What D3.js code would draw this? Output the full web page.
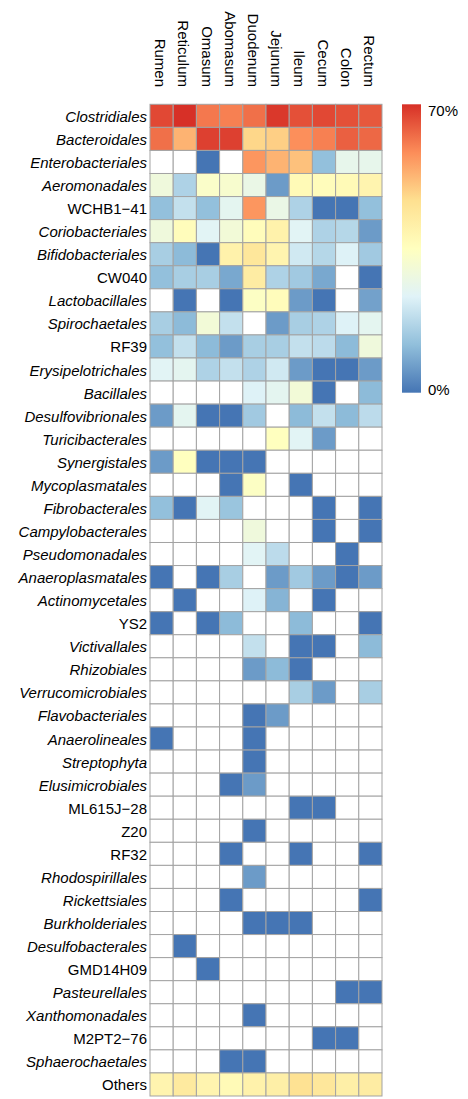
<!DOCTYPE html>
<html>
<head>
<meta charset="utf-8">
<script src="https://cdn.jsdelivr.net/npm/d3@7"></script>
<style>
  body { margin: 0; background: #fff; }
  text { font-family: "Liberation Sans", Arial, sans-serif; fill: #000; }
</style>
</head>
<body>
<svg id="chart" width="468" height="1099"></svg>
<script>
// ---- data ----
const samples = ["Rumen","Reticulum","Omasum","Abomasum","Duodenum","Jejunum","Ileum","Cecum","Colon","Rectum"];
const orders = ["Clostridiales","Bacteroidales","Enterobacteriales","Aeromonadales","WCHB1\u221241","Coriobacteriales","Bifidobacteriales","CW040","Lactobacillales","Spirochaetales",
  "RF39","Erysipelotrichales","Bacillales","Desulfovibrionales","Turicibacterales","Synergistales","Mycoplasmatales","Fibrobacterales","Campylobacterales","Pseudomonadales",
  "Anaeroplasmatales","Actinomycetales","YS2","Victivallales","Rhizobiales","Verrucomicrobiales","Flavobacteriales","Anaerolineales","Streptophyta","Elusimicrobiales",
  "ML615J\u221228","Z20","RF32","Rhodospirillales","Rickettsiales","Burkholderiales","Desulfobacterales","GMD14H09","Pasteurellales","Xanthomonadales",
  "M2PT2\u221276","Sphaerochaetales","Others"];
const uncultured = ["WCHB1\u221241","CW040","RF39","YS2","ML615J\u221228","Z20","RF32","GMD14H09","M2PT2\u221276","Others"];
const N = null;
const rumen     = [67,62,N,29,12,29,15,12,N,15, 12,24,N,6,N,6,N,12,N,N, 0,N,0,N,N,N,N,0,N,N, N,N,N,N,N,N,N,N,N,N, N,N,39];
const reticulum = [70,53,N,16,19,36,11,15,0,11, 19,25,N,25,N,35,N,0,N,N, N,0,N,N,N,N,N,N,N,N, N,N,N,N,N,N,0,N,N,N, N,N,43];
const omasum    = [61,68,0,33,12,24,0,15,N,30, 11,16,N,0,N,0,N,24,N,N, 0,N,0,N,N,N,N,N,N,N, N,N,N,N,N,N,N,0,N,N, N,N,39];
const abomasum  = [60,68,N,32,25,30,40,8,0,19, 6,19,N,0,N,0,0,13,N,N, 15,N,11,N,N,N,N,N,N,0, N,N,0,N,0,N,N,N,N,N, N,0,37];
const duodenum  = [62,48,57,27,57,36,44,42,34,N, 15,16,23,14,N,0,34,N,29,24, N,23,N,19,6,N,0,0,0,6, N,0,N,6,N,0,N,N,N,0, N,0,40];
const jejunum   = [69,49,53,6,27,40,39,16,36,6, 15,21,25,N,35,N,N,N,N,18, 6,10,N,N,11,N,6,N,N,N, N,N,N,N,N,0,N,N,N,N, N,N,41];
const ileum     = [66,58,51,37,16,24,21,14,6,15, 19,6,30,11,24,N,0,N,N,N, 14,N,11,0,0,15,N,N,N,N, 0,N,0,N,N,0,N,N,N,N, N,N,46];
const cecum     = [67,60,12,36,0,16,17,8,0,16, 18,0,0,19,6,N,N,0,0,N, 6,0,N,0,N,6,N,N,N,N, 0,N,N,N,N,N,N,N,N,N, 0,N,44];
const colon     = [66,64,26,37,0,17,23,N,N,23, 11,0,N,11,N,N,N,N,N,0, 0,N,N,N,N,N,N,N,N,N, N,N,N,N,N,N,N,N,0,N, 0,N,41];
const rectum    = [65,63,26,39,12,6,14,0,7,25, 29,6,11,18,N,N,N,0,0,N, 6,N,0,11,N,15,N,N,N,N, N,N,0,N,0,N,N,N,0,N, N,N,42];
const legendTicks = [0, 70];

const seriesBySample = [rumen, reticulum, omasum, abomasum, duodenum, jejunum, ileum, cecum, colon, rectum];

// ---- scales ----
const palette = ["#4575b4","#91bfdb","#e0f3f8","#ffffbf","#fee090","#fc8d59","#d73027"];
const color = d3.scaleLinear()
  .domain(d3.range(palette.length).map(i => 70 * i / (palette.length - 1)))
  .range(palette).clamp(true);

const x = d3.scaleBand().domain(samples).range([150, 382]).padding(0);
const y = d3.scaleBand().domain(orders).range([104.3, 1096]).padding(0);

const svg = d3.select("#chart");
svg.append("rect").attr("width", 468).attr("height", 1099).attr("fill", "#fff");

const cells = [];
samples.forEach((s, i) => {
  orders.forEach((o, j) => cells.push({ s, o, v: seriesBySample[i][j] }));
});

svg.append("g").selectAll("rect").data(cells).join("rect")
  .attr("x", d => x(d.s))
  .attr("y", d => y(d.o))
  .attr("width", x.bandwidth())
  .attr("height", y.bandwidth())
  .attr("fill", d => d.v == null ? "#ffffff" : color(d.v))
  .attr("stroke", "#a3a3a3")
  .attr("stroke-width", 1);

// row labels
svg.append("g").selectAll("text").data(orders).join("text")
  .attr("x", 147)
  .attr("y", d => y(d) + y.bandwidth() / 2 + 6)
  .attr("text-anchor", "end")
  .attr("font-size", 15)
  .attr("font-style", d => uncultured.includes(d) ? "normal" : "italic")
  .text(d => d);

// column labels (rotated)
svg.append("g").selectAll("text").data(samples).join("text")
  .attr("transform", d => `translate(${x(d) + x.bandwidth() / 2 - 1},87) rotate(90)`)
  .attr("text-anchor", "end")
  .attr("dominant-baseline", "central")
  .attr("font-size", 15)
  .text(d => d);

// legend
const legTop = 104.3, legBottom = 392.7, legX = 402, legW = 19;
const ly = d3.scaleLinear().domain([0, 70]).range([legBottom, legTop]);
const defs = svg.append("defs");
const grad = defs.append("linearGradient").attr("id", "lg")
  .attr("x1", 0).attr("y1", 1).attr("x2", 0).attr("y2", 0);
color.domain().forEach((v, i) => {
  grad.append("stop").attr("offset", v / 70).attr("stop-color", palette[i]);
});
svg.append("rect").attr("x", legX).attr("y", legTop)
  .attr("width", legW).attr("height", legBottom - legTop)
  .attr("fill", "url(#lg)");
svg.append("g").selectAll("text").data(legendTicks).join("text")
  .attr("x", 428)
  .attr("y", d => d === 70 ? ly(d) + 12 : ly(d) + 2.5)
  .attr("font-size", 15)
  .text(d => d + "%");
</script>
</body>
</html>
